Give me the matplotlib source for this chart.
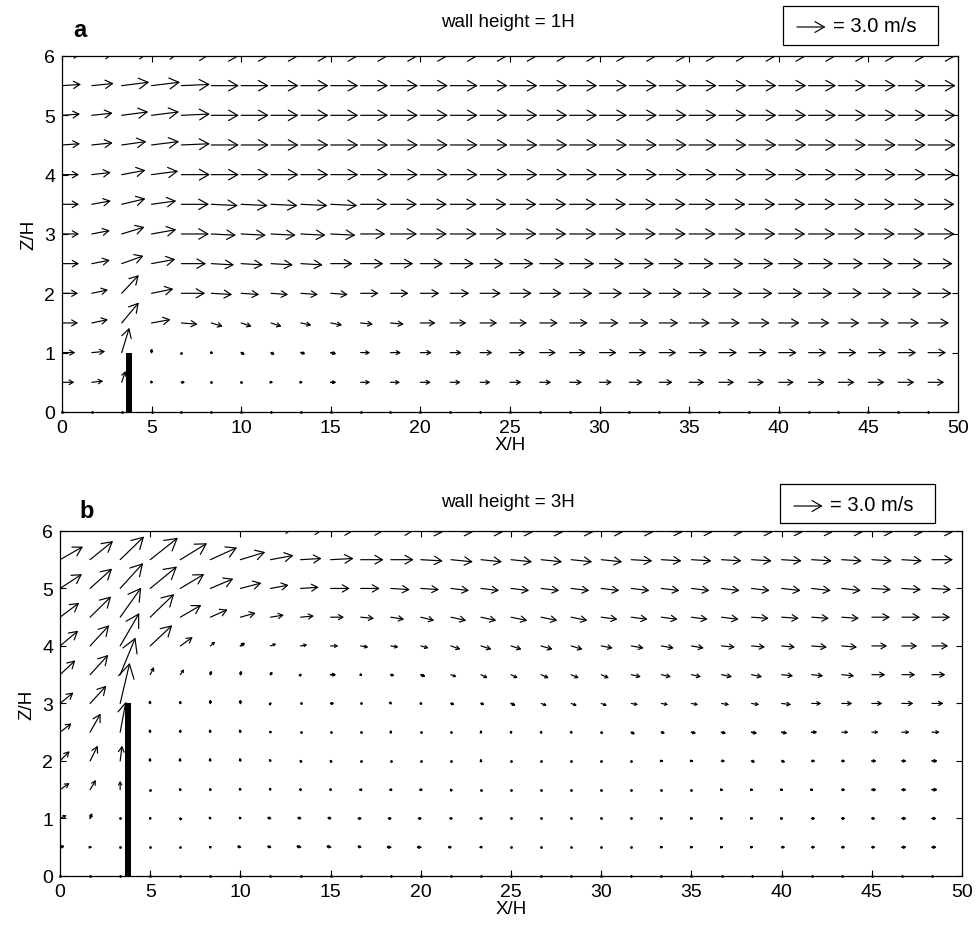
import numpy as np
import matplotlib
matplotlib.use("Agg")
import matplotlib.pyplot as plt
from matplotlib.patches import FancyArrowPatch, Rectangle, ArrowStyle

plt.rcParams['font.family'] = ['Liberation Sans', 'DejaVu Sans']

# grid of the velocity field (X/H, Z/H)
x_grid = np.arange(30) * 50 / 30
z_grid = np.arange(13) * 0.5

wall_x = 3.75
wall_width = 0.33
ref_speed = 3.0          # m/s, reference arrow
arrow_scale = 0.53       # X/H units per m/s

# ---- wall height = 1H : horizontal (u) and vertical (w) velocity, m/s ----
u_1H = [
    [0.0] * 30,
    [1.3, 1.2, 0.4, -0.1, 0.4, 0.1, 0.1, 0.2, 0.2, 0.6, 1.0, 1.0, 1.1, 1.1, 1.1, 1.2, 1.2, 1.3, 1.3, 1.4, 1.4, 1.6, 1.6, 1.6, 1.6, 1.7, 1.7, 1.7, 1.7, 1.7],
    [1.4, 1.4, 0.8, 0.0, 0.1, 0.2, 0.4, 0.4, 0.5, 0.6, 1.0, 1.1, 1.2, 1.2, 1.3, 1.6, 1.7, 1.7, 1.8, 1.8, 1.8, 1.9, 1.9, 1.9, 1.9, 1.9, 1.9, 1.9, 1.9, 1.9],
    [1.7, 1.7, 1.8, 2.0, 1.7, 1.2, 1.1, 1.1, 1.1, 1.2, 1.3, 1.4, 1.6, 1.7, 1.8, 1.8, 1.9, 1.9, 2.0, 2.0, 2.0, 2.2, 2.2, 2.2, 2.2, 2.2, 2.2, 2.2, 2.2, 2.2],
    [1.7, 1.7, 1.8, 2.3, 2.5, 2.2, 1.9, 1.8, 1.8, 1.8, 1.9, 1.9, 2.0, 2.0, 2.2, 2.3, 2.3, 2.4, 2.4, 2.4, 2.4, 2.4, 2.5, 2.5, 2.5, 2.5, 2.5, 2.5, 2.5, 2.5],
    [1.8, 1.9, 2.3, 2.5, 2.6, 2.4, 2.3, 2.3, 2.3, 2.3, 2.4, 2.4, 2.4, 2.5, 2.5, 2.5, 2.6, 2.6, 2.6, 2.6, 2.6, 2.6, 2.6, 2.6, 2.6, 2.6, 2.6, 2.6, 2.6, 2.6],
    [1.8, 1.9, 2.4, 2.6, 2.9, 2.6, 2.6, 2.6, 2.6, 2.6, 2.6, 2.8, 2.8, 2.8, 2.8, 2.8, 2.8, 2.8, 2.8, 2.8, 2.8, 2.8, 2.8, 2.8, 2.8, 2.8, 2.8, 2.8, 2.8, 2.8],
    [1.8, 2.0, 2.5, 2.6, 2.9, 2.8, 2.8, 2.8, 2.8, 2.8, 2.8, 2.8, 2.8, 2.8, 2.8, 2.8, 2.8, 2.8, 2.8, 2.8, 2.8, 2.8, 2.8, 2.8, 2.8, 2.8, 2.8, 2.8, 2.8, 2.8],
    [1.8, 2.0, 2.5, 2.8, 3.0, 2.9, 2.9, 2.9, 2.9, 2.9, 2.9, 2.9, 2.9, 2.9, 2.9, 2.9, 2.9, 2.9, 2.9, 2.9, 2.9, 2.9, 2.9, 2.9, 2.9, 2.9, 2.9, 2.9, 2.9, 2.9],
    [1.9, 2.2, 2.6, 2.9, 3.0, 2.9, 2.9, 2.9, 2.9, 2.9, 2.9, 2.9, 2.9, 2.9, 2.9, 2.9, 2.9, 2.9, 2.9, 2.9, 2.9, 2.9, 2.9, 2.9, 2.9, 2.9, 2.9, 2.9, 2.9, 2.9],
    [1.9, 2.2, 2.8, 2.9, 3.0, 2.9, 2.9, 2.9, 2.9, 2.9, 2.9, 2.9, 2.9, 2.9, 2.9, 2.9, 2.9, 2.9, 2.9, 2.9, 2.9, 2.9, 2.9, 2.9, 2.9, 2.9, 2.9, 2.9, 2.9, 2.9],
    [2.0, 2.3, 2.9, 3.0, 3.0, 2.9, 2.9, 2.9, 2.9, 2.9, 2.9, 2.9, 2.9, 2.9, 2.9, 2.9, 2.9, 2.9, 2.9, 2.9, 2.9, 2.9, 2.9, 2.9, 2.9, 2.9, 2.9, 2.9, 2.9, 2.9],
    [2.0, 2.3, 2.9, 3.0, 3.0, 2.9, 2.9, 2.9, 2.9, 2.9, 2.9, 2.9, 2.9, 2.9, 2.9, 2.9, 2.9, 2.9, 2.9, 2.9, 2.9, 2.9, 2.9, 2.9, 2.9, 2.9, 2.9, 2.9, 2.9, 2.9],
]
w_1H = [
    [0.0] * 30,
    [0, 0.04, 0.36, 0.07, 0, 0, 0, 0, 0, 0, 0, 0, 0, 0, 0, 0, 0, 0, 0, 0, 0, 0, 0, 0, 0, 0, 0, 0, 0, 0],
    [0, 0.04, 0.79, 0.14, 0, -0.04, -0.07, -0.07, -0.04, -0.04, 0, 0, 0, 0, 0, 0, 0, 0, 0, 0, 0, 0, 0, 0, 0, 0, 0, 0, 0, 0],
    [0, 0.11, 0.65, 0.11, -0.04, -0.11, -0.11, -0.11, -0.07, -0.07, -0.04, -0.04, 0, 0, 0, 0, 0, 0, 0, 0, 0, 0, 0, 0, 0, 0, 0, 0, 0, 0],
    [0, 0.11, 0.58, 0.14, 0, -0.04, -0.04, -0.04, -0.04, -0.04, 0, 0, 0, 0, 0, 0, 0, 0, 0, 0, 0, 0, 0, 0, 0, 0, 0, 0, 0, 0],
    [0, 0.11, 0.25, 0.14, 0, -0.04, -0.04, -0.04, -0.04, 0, 0, 0, 0, 0, 0, 0, 0, 0, 0, 0, 0, 0, 0, 0, 0, 0, 0, 0, 0, 0],
    [0, 0.11, 0.22, 0.14, 0, -0.04, -0.04, -0.04, -0.04, -0.04, 0, 0, 0, 0, 0, 0, 0, 0, 0, 0, 0, 0, 0, 0, 0, 0, 0, 0, 0, 0],
    [0, 0.11, 0.18, 0.11, 0, -0.04, -0.04, -0.04, -0.04, -0.04, 0, 0, 0, 0, 0, 0, 0, 0, 0, 0, 0, 0, 0, 0, 0, 0, 0, 0, 0, 0],
    [0, 0.07, 0.14, 0.11, 0, 0, 0, 0, 0, 0, 0, 0, 0, 0, 0, 0, 0, 0, 0, 0, 0, 0, 0, 0, 0, 0, 0, 0, 0, 0],
    [0.04, 0.07, 0.11, 0.11, 0.04, 0, 0, 0, 0, 0, 0, 0, 0, 0, 0, 0, 0, 0, 0, 0, 0, 0, 0, 0, 0, 0, 0, 0, 0, 0],
    [0.04, 0.07, 0.11, 0.11, 0.04, 0, 0, 0, 0, 0, 0, 0, 0, 0, 0, 0, 0, 0, 0, 0, 0, 0, 0, 0, 0, 0, 0, 0, 0, 0],
    [0.04, 0.07, 0.11, 0.11, 0.04, 0, 0, 0, 0, 0, 0, 0, 0, 0, 0, 0, 0, 0, 0, 0, 0, 0, 0, 0, 0, 0, 0, 0, 0, 0],
    [0.07, 0.07, 0.11, 0.11, 0.04, 0, 0, 0, 0, 0, 0, 0, 0, 0, 0, 0, 0, 0, 0, 0, 0, 0, 0, 0, 0, 0, 0, 0, 0, 0],
]

# ---- wall height = 3H ----
u_3H = [
    [0.0] * 30,
    [0.5, 0.2, 0, 0, 0, -0.2, -0.4, -0.4, -0.5, -0.5, -0.4, -0.5, -0.5, -0.4, -0.2, -0.1, 0, 0, 0, 0.1, 0.2, 0.2, 0.2, 0.2, 0.4, 0.4, 0.4, 0.4, 0.5, 0.5],
    [0.7, 0.2, 0, -0.1, -0.1, -0.2, -0.2, -0.4, -0.4, -0.4, -0.4, -0.4, -0.4, -0.2, -0.2, 0, 0, 0, 0, 0.1, 0.2, 0.2, 0.2, 0.2, 0.2, 0.4, 0.4, 0.4, 0.5, 0.5],
    [1.0, 0.6, 0, 0, -0.1, -0.1, -0.2, -0.2, -0.2, -0.2, -0.2, -0.2, -0.2, -0.1, 0, 0, 0, 0, 0, 0.1, 0.1, 0.1, 0.2, 0.2, 0.2, 0.2, 0.4, 0.5, 0.5, 0.6],
    [1.0, 0.8, 0.2, -0.1, -0.1, -0.1, -0.1, -0.2, -0.1, -0.1, -0.1, 0, 0, 0, 0, 0, 0, 0, 0, 0.1, 0.2, 0.2, 0.4, 0.4, 0.4, 0.4, 0.4, 0.5, 0.5, 0.6],
    [1.2, 1.1, 0.6, -0.1, 0, -0.1, -0.1, -0.1, 0, 0.1, 0, 0, 0.1, 0, 0, 0.1, 0.1, 0.1, 0.2, 0.4, 0.4, 0.5, 0.5, 0.6, 0.6, 0.6, 0.7, 0.7, 0.8, 0.8],
    [1.4, 1.7, 1.0, -0.1, 0, 0, 0, 0.1, 0.1, 0.4, 0.1, 0.1, 0.2, 0.4, 0.4, 0.5, 0.6, 0.6, 0.6, 0.7, 0.7, 0.7, 0.8, 0.8, 1.0, 1.0, 1.1, 1.1, 1.2, 1.2],
    [1.6, 1.9, 1.6, 0.4, 0.4, 0.1, 0.1, 0.2, 0.1, 0.6, 0.2, 0.4, 0.5, 0.6, 0.7, 0.7, 0.8, 0.8, 0.8, 1.0, 1.0, 1.0, 1.1, 1.1, 1.2, 1.2, 1.3, 1.4, 1.4, 1.4],
    [1.9, 2.0, 2.0, 2.3, 1.3, 0.5, 0.5, 0.6, 0.7, 0.8, 0.8, 0.8, 0.8, 1.0, 1.1, 1.1, 1.2, 1.2, 1.2, 1.3, 1.3, 1.3, 1.4, 1.4, 1.4, 1.6, 1.6, 1.6, 1.6, 1.7],
    [2.0, 2.2, 2.2, 2.5, 2.2, 1.8, 1.6, 1.4, 1.4, 1.4, 1.4, 1.4, 1.4, 1.6, 1.6, 1.7, 1.7, 1.7, 1.7, 1.7, 1.7, 1.7, 1.8, 1.8, 1.8, 1.8, 1.8, 1.9, 1.9, 1.9],
    [2.3, 2.3, 2.4, 2.8, 2.5, 2.4, 2.2, 1.9, 1.9, 2.0, 2.0, 2.0, 1.9, 1.9, 1.9, 1.9, 1.9, 1.9, 1.9, 1.9, 1.9, 1.9, 1.9, 1.9, 2.0, 2.0, 2.0, 2.0, 2.0, 2.0],
    [2.4, 2.4, 2.5, 2.9, 2.8, 2.8, 2.6, 2.4, 2.2, 2.4, 2.4, 2.4, 2.3, 2.3, 2.2, 2.2, 2.2, 2.2, 2.2, 2.2, 2.1, 2.1, 2.1, 2.1, 2.1, 2.1, 2.1, 2.1, 2.1, 2.2],
    [2.4, 2.5, 2.6, 2.9, 2.9, 2.8, 2.7, 2.5, 2.4, 2.4, 2.4, 2.4, 2.3, 2.3, 2.3, 2.3, 2.3, 2.3, 2.3, 2.3, 2.2, 2.2, 2.2, 2.2, 2.2, 2.2, 2.2, 2.2, 2.2, 2.2],
]
w_3H = [
    [0.0] * 30,
    [0.04, 0, 0, 0, 0, 0.04, 0.04, 0.04, 0.04, 0.04, 0.04, 0, 0, 0, 0, 0, 0, 0, 0, 0, 0, 0, 0, 0, 0, 0, 0, 0, 0, 0],
    [0.11, 0.18, 0.04, 0.07, 0.04, 0.07, 0.07, 0.04, 0.04, 0.04, 0, 0, 0, 0, 0, 0, 0, 0, 0, 0, 0, 0, 0, 0, 0, 0, 0, 0, 0, 0],
    [0.22, 0.32, 0.29, 0, 0.07, 0.07, 0.07, 0.07, 0.04, 0.04, 0, 0, 0, 0.04, 0.04, 0.04, 0.04, 0, 0.04, 0, 0, 0, 0, 0, 0, 0, 0, 0, 0, 0],
    [0.32, 0.5, 0.5, 0.11, 0.11, 0.11, 0.11, 0.07, 0.04, 0.04, 0, 0, 0.04, 0.04, 0.07, 0, 0.04, 0.04, 0.04, 0, 0, 0, 0, -0.04, -0.04, 0, 0, 0, 0, 0],
    [0.29, 0.61, 1.0, 0.11, 0.11, 0.11, 0.11, 0.07, 0, 0, 0, 0.07, 0, 0.04, 0.07, -0.07, -0.07, -0.07, -0.07, -0.07, -0.04, -0.04, -0.04, -0.04, -0.04, 0, 0, 0, 0, 0],
    [0.36, 0.58, 1.33, 0.11, 0.11, 0.14, 0.14, 0.04, 0, 0, 0, -0.04, -0.04, -0.04, -0.04, -0.07, -0.07, -0.07, -0.07, -0.04, -0.04, -0.04, -0.04, -0.04, -0.04, 0, 0, 0, 0, 0],
    [0.47, 0.65, 1.22, 0.25, 0.18, 0.14, 0.14, 0.11, 0.04, 0, -0.04, -0.04, -0.07, -0.07, -0.11, -0.11, -0.11, -0.11, -0.11, -0.07, -0.07, -0.07, -0.07, -0.07, -0.04, -0.04, -0.04, 0, 0, 0],
    [0.5, 0.68, 1.08, 0.68, 0.29, 0.14, 0.11, 0.07, 0.04, 0, -0.04, -0.04, -0.07, -0.11, -0.11, -0.11, -0.11, -0.11, -0.07, -0.07, -0.07, -0.07, -0.04, -0.04, -0.04, -0.04, -0.04, 0, 0, 0],
    [0.47, 0.68, 0.97, 0.76, 0.4, 0.25, 0.14, 0.07, 0.04, 0, -0.04, -0.07, -0.11, -0.11, -0.11, -0.11, -0.11, -0.11, -0.07, -0.07, -0.07, -0.07, -0.07, -0.04, -0.04, -0.04, -0.04, 0, 0, 0],
    [0.47, 0.65, 0.83, 0.72, 0.47, 0.32, 0.18, 0.11, 0.04, 0, 0, -0.04, -0.04, -0.07, -0.07, -0.07, -0.07, -0.07, -0.07, -0.07, -0.07, -0.07, -0.07, -0.07, -0.07, -0.07, -0.07, -0.04, -0.04, -0.04],
    [0.43, 0.61, 0.76, 0.72, 0.54, 0.4, 0.25, 0.14, 0.04, 0.04, 0, 0, -0.04, -0.07, -0.07, -0.07, -0.07, -0.07, -0.07, -0.04, -0.04, -0.04, -0.04, -0.04, -0.04, -0.04, -0.04, -0.04, -0.04, 0],
    [0.4, 0.55, 0.7, 0.65, 0.5, 0.35, 0.22, 0.11, 0.04, 0, 0, 0, -0.04, -0.04, -0.04, -0.04, -0.04, -0.04, -0.04, -0.04, -0.04, -0.04, -0.04, -0.04, -0.04, -0.04, -0.04, -0.04, -0.04, -0.04],
]

panels = [
    dict(u=u_1H, w=w_1H, wall=1, title='wall height = 1H', letter='a',
         rect=[0.0635, 0.555, 0.918, 0.3836],
         title_y=0.976, letter_xy=(0.082, 0.967), box=(0.802, 0.950),
         legend_arrow=(797, 900), legend_text=(833, 901)),
    dict(u=u_3H, w=w_3H, wall=3, title='wall height = 3H', letter='b',
         rect=[0.0615, 0.055, 0.9242, 0.3718],
         title_y=0.459, letter_xy=(0.089, 0.449), box=(0.799, 0.4353),
         legend_arrow=(794, 421), legend_text=(830, 422)),
]


def arrow_style(lpx):
    lpt = lpx * 0.72
    return ArrowStyle('->', head_length=0.33 * lpt, head_width=0.19 * lpt)


fig = plt.figure(figsize=(9.76, 9.28), dpi=100)

for p in panels:
    ax = fig.add_axes(p['rect'])
    ax.set_xlim(0, 50)
    ax.set_ylim(0, 6)
    ax.set_xticks(np.arange(0, 51, 5))
    ax.set_yticks(np.arange(0, 7, 1))
    ax.tick_params(direction='in', top=True, right=True, length=4, width=0.8,
                   labelsize=14, pad=5)
    for s in ax.spines.values():
        s.set_linewidth(0.9)
    ax.set_xlabel('X/H', fontsize=13.5, labelpad=0)
    ax.set_ylabel('Z/H', fontsize=13.5, labelpad=5)

    # wall
    ax.bar(wall_x, p['wall'], width=wall_width, color='k', zorder=3)

    # velocity vectors
    U = np.array(p['u'], dtype=float)
    W = np.array(p['w'], dtype=float)
    X, Z = np.meshgrid(x_grid, z_grid)
    tails = np.column_stack([X.ravel(), Z.ravel()])
    heads = tails + arrow_scale * np.column_stack([U.ravel(), W.ravel()])
    L = np.hypot(*(ax.transData.transform(heads) - ax.transData.transform(tails)).T)
    small = L < 1.5
    ax.plot(tails[small, 0], tails[small, 1], 'o', ms=2.0, color='k', mew=0,
            clip_on=False, zorder=4)
    for t, h, lpx in zip(tails[~small], heads[~small], L[~small]):
        ax.add_patch(FancyArrowPatch(tuple(t), tuple(h), arrowstyle=arrow_style(max(lpx, 3)),
                                     mutation_scale=1, lw=0.85 if lpx > 6 else 1.2,
                                     color='k', shrinkA=0, shrinkB=0))

    # titles, panel letter
    fig.text(0.52, p['title_y'], p['title'], ha='center', va='center', fontsize=13.5)
    fig.text(*p['letter_xy'], p['letter'], ha='center', va='center', fontsize=17,
             fontweight='bold')

    # reference arrow box
    fig.patches.append(Rectangle(p['box'], 155 / 976, 39 / 928, transform=fig.transFigure,
                                 fill=False, edgecolor='k', lw=0.9))
    ref_px = ref_speed * arrow_scale * (ax.transData.transform((1, 0))[0] -
                                        ax.transData.transform((0, 0))[0])
    ax0, ay0 = p['legend_arrow']
    fig.patches.append(FancyArrowPatch((ax0, ay0), (ax0 + ref_px, ay0),
                                       arrowstyle=arrow_style(ref_px), mutation_scale=1,
                                       lw=0.85, color='k', shrinkA=0, shrinkB=0,
                                       transform=None))
    fig.text(p['legend_text'][0] / 976, p['legend_text'][1] / 928, '= %.1f m/s' % ref_speed,
             ha='left', va='center', fontsize=14.5)

fig.savefig('out.png', dpi=100)
